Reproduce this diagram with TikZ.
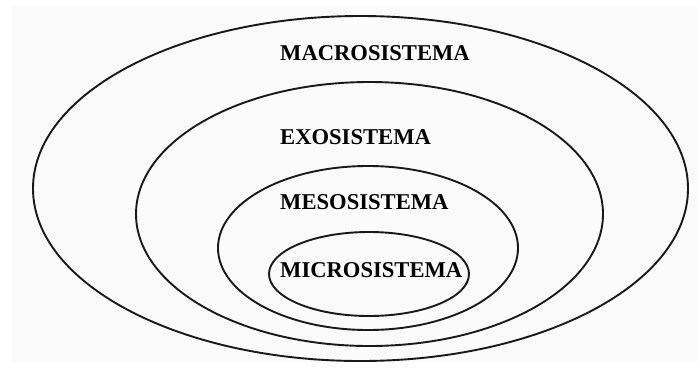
\documentclass[tikz,border=0pt]{standalone}
\usepackage{fontspec}
\setmainfont{Liberation Serif}
\usetikzlibrary{calc}

\begin{document}
\begin{tikzpicture}[
      x=1pt, y=-1pt, % pixel grid, y downwards
      ring/.style={line width=1.9pt, black!90}, % Style for the nested systems
      sysname/.style={anchor=base west, inner sep=0pt,
        font=\fontsize{22.6}{27}\selectfont\bfseries}, % Style for the names
    ]

    \useasboundingbox (0,0) rectangle (698,370);
    \fill[gray!3] (11,6) rectangle (698,362);

    \def\xtxt{280}

    % Macrosistema (aussen)
    \draw[ring] (360.5,188.5) ellipse [x radius=327.5pt, y radius=172.5pt];
    % Exosistema
    \draw[ring] (369.5,214) ellipse [x radius=233.5pt, y radius=132pt];
    % Mesosistema
    \draw[ring] (368,248) ellipse [x radius=150pt, y radius=82pt];
    % Microsistema (innen)
    \draw[ring] (369,274) ellipse [x radius=100pt, y radius=42pt];

    \node[sysname] (macro) at (\xtxt,60) {MACROSISTEMA};
    \node[sysname] (exo) at (\xtxt,144) {EXOSISTEMA};
    \node[sysname] (meso) at (\xtxt,209) {MESOSISTEMA};
    \node[sysname] (micro) at (\xtxt,277) {MICROSISTEMA};

  \end{tikzpicture}
\end{document}
